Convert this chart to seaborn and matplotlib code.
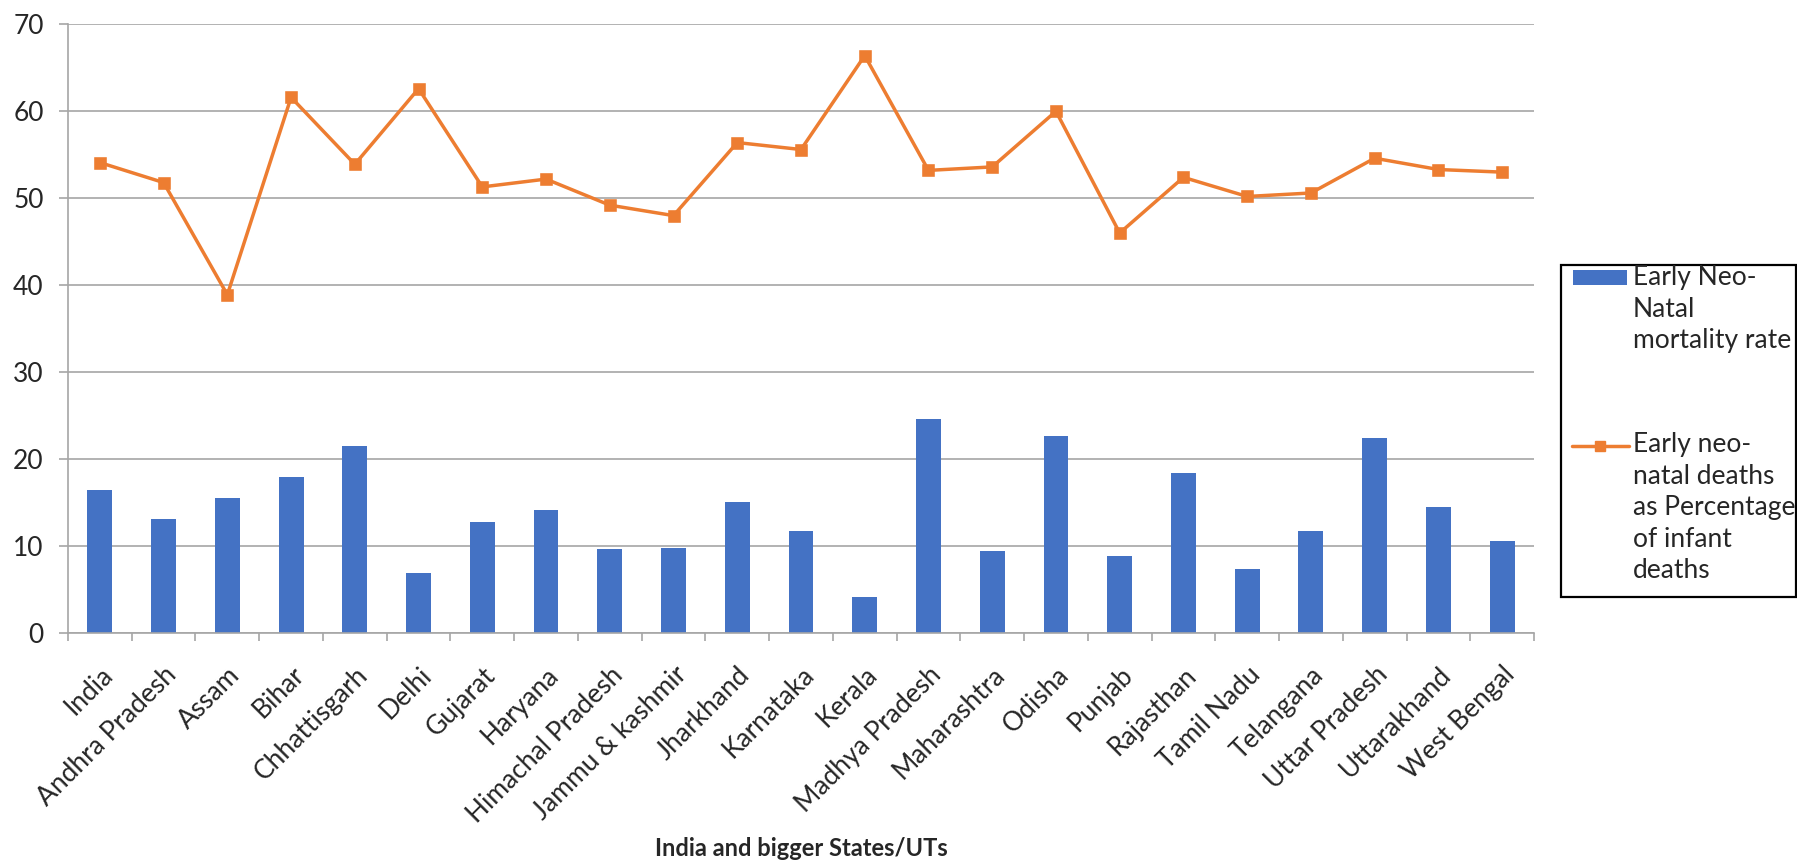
import numpy as np
import seaborn as sns
import matplotlib.pyplot as plt
from matplotlib.patches import Rectangle
from matplotlib.lines import Line2D

states = ['India', 'Andhra Pradesh', 'Assam', 'Bihar', 'Chhattisgarh', 'Delhi',
          'Gujarat', 'Haryana', 'Himachal Pradesh', 'Jammu & kashmir', 'Jharkhand',
          'Karnataka', 'Kerala', 'Madhya Pradesh', 'Maharashtra', 'Odisha', 'Punjab',
          'Rajasthan', 'Tamil Nadu', 'Telangana', 'Uttar Pradesh', 'Uttarakhand',
          'West Bengal']

# Early neo-natal mortality rate (bars)
enmr = [16.4, 13.1, 15.5, 17.9, 21.5, 6.9, 12.8, 14.2, 9.7, 9.8, 15.1, 11.7,
        4.1, 24.6, 9.4, 22.6, 8.8, 18.4, 7.4, 11.7, 22.4, 14.5, 10.6]

# Early neo-natal deaths as % of infant deaths (line)
pct = [54.1, 51.8, 38.9, 61.6, 53.9, 62.6, 51.3, 52.2, 49.2, 48.0, 56.4, 55.6,
       66.4, 53.2, 53.6, 60.0, 46.0, 52.4, 50.2, 50.6, 54.6, 53.3, 53.0]

bar_label = 'Early Neo-\nNatal\nmortality rate'
line_label = 'Early neo-\nnatal deaths\nas Percentage\nof infant\ndeaths'
yticks = [0, 10, 20, 30, 40, 50, 60, 70]

BLUE = '#4472C4'
ORANGE = '#ED7D31'
GREY = '#A6A6A6'
TXT = '#262626'

sns.set_theme(style='white')
plt.rcParams['font.family'] = ['Lato', 'DejaVu Sans']

W, H = 1797, 861
fig = plt.figure(figsize=(W / 100, H / 100), dpi=100)
ax = fig.add_axes([68 / W, 1 - 633 / H, (1534 - 68) / W, (633 - 24.3) / H])

sns.barplot(x=states, y=enmr, color=BLUE, saturation=1, width=0.39,
            linewidth=0, ax=ax, zorder=2)
sns.pointplot(x=states, y=pct, color=ORANGE, markers='s', markersize=7.5,
              linewidth=2.5, ax=ax, zorder=3)

ax.set_xlim(-0.5, len(states) - 0.5)
ax.set_ylim(0, 70)
ax.set_yticks(yticks)
ax.yaxis.grid(True, color=GREY, lw=1.2)
ax.set_axisbelow(True)
sns.despine(ax=ax)
for s in ['left', 'bottom']:
    ax.spines[s].set_color(GREY)
    ax.spines[s].set_linewidth(1.2)

# ticks at category boundaries, labels at centres
ax.set_xticks(np.arange(-0.5, len(states), 1), [''] * (len(states) + 1))
ax.set_xticks(np.arange(len(states)), states, minor=True, rotation=45,
              ha='right', rotation_mode='anchor')
ax.tick_params(axis='x', which='major', length=6, width=1.2, color=GREY,
               direction='out', bottom=True)
ax.tick_params(axis='x', which='minor', length=0, pad=21, labelsize=19,
               labelcolor=TXT)
ax.tick_params(axis='y', length=6.5, width=1.2, color=GREY, direction='out',
               left=True, pad=11, labelsize=19, labelcolor=TXT)

ax.set_xlabel('India and bigger States/UTs', fontsize=17, fontweight='bold',
              color=TXT)
ax.set_ylabel('')
ax.xaxis.label.set_va('center')
ax.xaxis.set_label_coords(0.5, (633 - 848) / (633 - 24.3))

# legend box (Excel style, text wrapped, handle at first line)
def fx(px):
    return px / W

def fy(py):
    return 1 - py / H

fig.patches.append(Rectangle((fx(1561), fy(597)), fx(1796) - fx(1561),
                             fy(265) - fy(597), transform=fig.transFigure,
                             fill=False, edgecolor='black', lw=1.6))
fig.patches.append(Rectangle((fx(1573), fy(285)), fx(1627) - fx(1573),
                             fy(270) - fy(285), transform=fig.transFigure,
                             facecolor=BLUE, edgecolor='none'))
fig.lines.append(Line2D([fx(1572), fx(1629)], [fy(446), fy(446)],
                        transform=fig.transFigure, color=ORANGE, lw=2.5))
fig.lines.append(Line2D([fx(1600)], [fy(446)], transform=fig.transFigure,
                        color=ORANGE, marker='s', markersize=7.5))
fig.text(fx(1633), fy(265), bar_label, fontsize=19, color=TXT, va='top',
         ha='left', linespacing=1.33)
fig.text(fx(1633), fy(432), line_label, fontsize=19, color=TXT, va='top',
         ha='left', linespacing=1.33)

fig.savefig('out.png', dpi=100)
